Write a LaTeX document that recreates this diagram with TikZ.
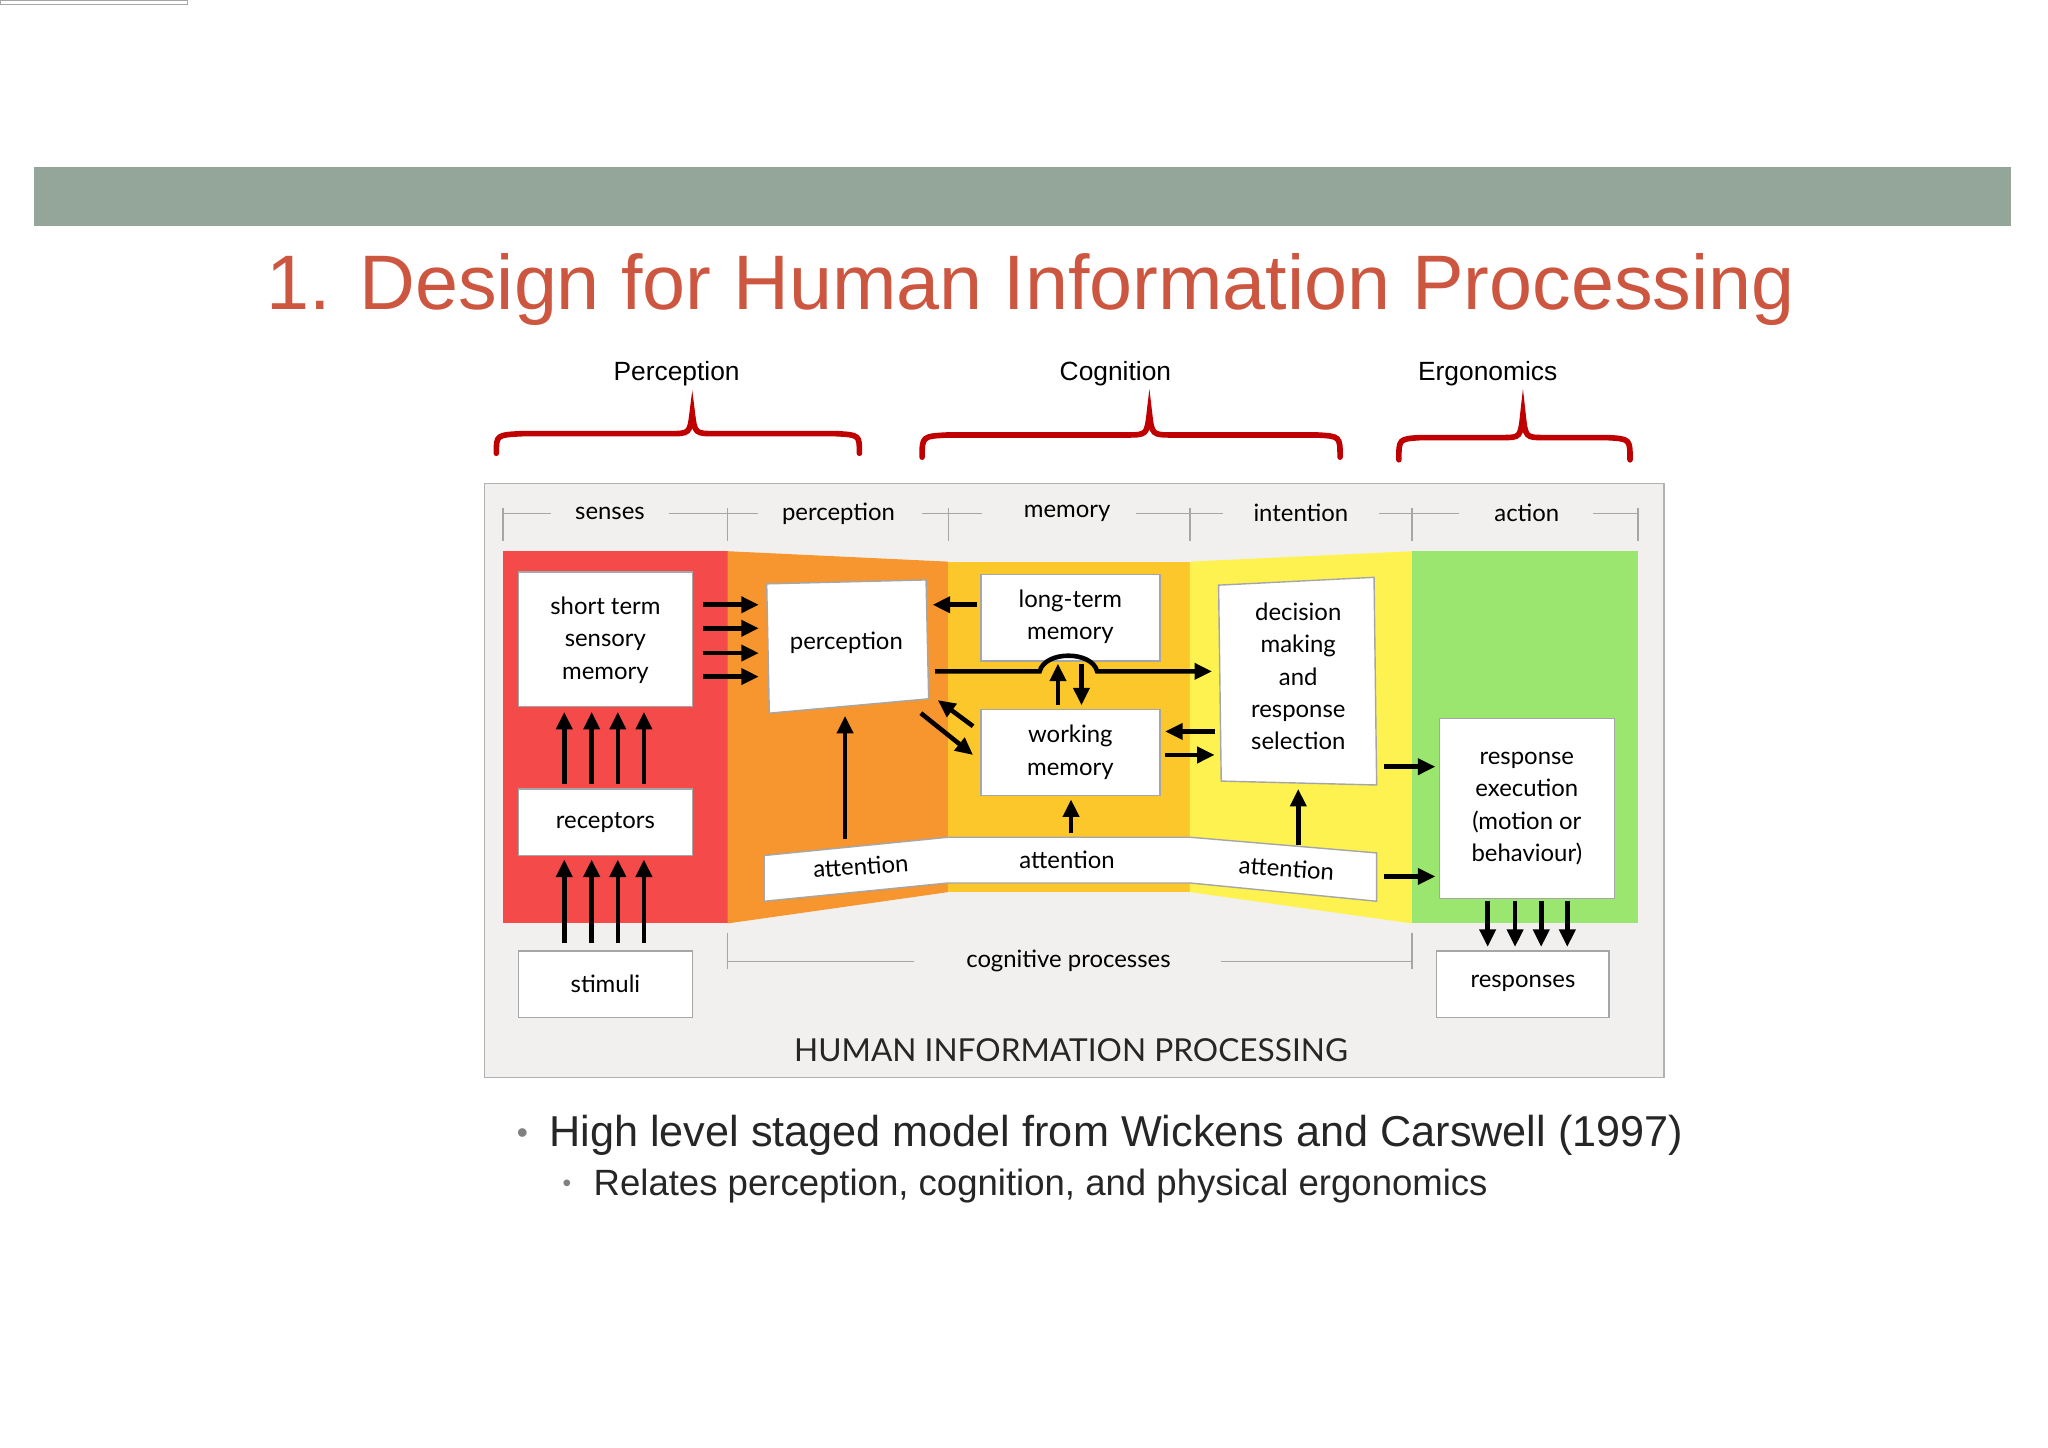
\documentclass[tikz,border=0pt]{standalone}
\usepackage{fontspec}
\setmainfont{Liberation Sans}
\newfontfamily\diagfont{Lato}
\usetikzlibrary{arrows.meta}
\definecolor{barc}{HTML}{94A599}
\definecolor{titc}{HTML}{CC563F}
\definecolor{bracec}{HTML}{C00000}
\definecolor{framec}{HTML}{F2F0EE}
\definecolor{redb}{HTML}{F44A4A}
\definecolor{orab}{HTML}{F7952F}
\definecolor{memb}{HTML}{FCC72A}
\definecolor{yelb}{HTML}{FEF250}
\definecolor{greb}{HTML}{9BE66E}
\begin{document}
\begin{tikzpicture}[x=0.01306cm,y=-0.01306cm,
  wbox/.style={draw=gray!70,fill=white,line width=0.4pt,inner sep=0pt,align=center,font=\diagfont\fontsize{6.8}{9.2}\selectfont},
  dtext/.style={font=\diagfont\fontsize{6.8}{9.2}\selectfont,align=center},
  arr/.style={-{Triangle[length=5pt,width=4.5pt]},line width=1.3pt},
  brace/.style={draw=bracec,line width=1.6pt,line cap=round},
  guide/.style={draw=gray!70,line width=0.4pt}]
\useasboundingbox (0,0) rectangle (1568,1108);
\fill[barc] (26,128) rectangle (1540,173);
\node[text=titc,font=\fontsize{22}{26}\selectfont] (title) at (789,222) {1. Design for Human Information Processing};
\node[font=\fontsize{7.5}{9}\selectfont] (lp) at (518,286) {Perception};
\node[font=\fontsize{7.5}{9}\selectfont] (lc) at (854,286) {Cognition};
\node[font=\fontsize{7.5}{9}\selectfont] (le) at (1139,286) {Ergonomics};
% braces
\draw[brace] (380,347) .. controls (380,333) .. (400,332) -- (512,332) .. controls (528,332) .. (530,316) .. controls (532,332) .. (548,332) -- (640,332) .. controls (658,333) .. (658,347);
\draw[brace] (706,350) .. controls (706,334) .. (726,333) -- (862,333) .. controls (878,333) .. (880,316) .. controls (882,333) .. (898,333) -- (1008,333) .. controls (1026,334) .. (1026,350);
\draw[brace] (1071,352) .. controls (1071,336) .. (1088,335) -- (1150,335) .. controls (1164,335) .. (1166,317) .. controls (1168,335) .. (1182,335) -- (1230,335) .. controls (1248,336) .. (1248,352);
% frame
\draw[gray!60,fill=framec] (371,370) rectangle (1274,825);
% bands
\fill[redb] (385,422) rectangle (557,707);
\fill[orab] (557,422) -- (726,430) -- (726,683) -- (557,707) -- cycle;
\fill[memb] (726,430) rectangle (911,683);
\fill[yelb] (911,430) -- (1081,422) -- (1081,707) -- (911,683) -- cycle;
\fill[greb] (1081,422) rectangle (1254,707);
% header
\foreach \x in {385,557,726,911,1081,1254}{\draw[guide] (\x,389) -- (\x,414);}
\draw[guide] (385,393) -- (422,393); \draw[guide] (512,393) -- (557,393) -- (580,393);
\draw[guide] (706,393) -- (752,393); \draw[guide] (870,393) -- (936,393);
\draw[guide] (1056,393) -- (1117,393); \draw[guide] (1220,393) -- (1254,393);
\node[dtext] (hs) at (467,393) {senses};
\node[dtext] (hp) at (642,393) {perception};
\node[dtext] (hm) at (817,393) {memory};
\node[dtext] (hi) at (996,393) {intention};
\node[dtext] (ha) at (1169,393) {action};
% boxes
\node[wbox,minimum width=133\pgflinewidth,anchor=north west] at (0,0) {}; 
\draw[draw=gray!70,fill=white] (397,438) rectangle (530,541);
\node[dtext] (stsm) at (463.5,490) {short term\\sensory\\memory};
\draw[draw=gray!70,fill=white] (397,604) rectangle (530,655);
\node[dtext] (rec) at (463.5,630) {receptors};
\draw[draw=gray!70,fill=white] (397,728) rectangle (530,779);
\node[dtext] (sti) at (463.5,753) {stimuli};
\draw[draw=gray!70,fill=white] (587,447) -- (709,444) -- (711,535) -- (589,546) -- cycle;
\node[dtext] (perc) at (648,492) {perception};
\draw[draw=gray!70,fill=white] (751,440) rectangle (888,506);
\node[dtext] (ltm) at (819.5,472) {long-term\\memory};
\draw[draw=gray!70,fill=white] (751,543) rectangle (888,609);
\node[dtext] (wm) at (819.5,576) {working\\memory};
\draw[draw=gray!70,fill=white] (933,448) -- (1052,442) -- (1054,601) -- (935,598) -- cycle;
\node[dtext] (dec) at (994,518) {decision\\making\\and\\response\\selection};
\draw[draw=gray!70,fill=white] (585,655) -- (726,641) -- (911,641) -- (1054,653) -- (1054,690) -- (911,676) -- (726,676) -- (585,690) -- cycle;
\node[dtext,rotate=4] (att1) at (659,663) {attention};
\node[dtext] (att2) at (817,658) {attention};
\node[dtext,rotate=-4] (att3) at (985,665) {attention};
\draw[draw=gray!70,fill=white] (1102,550) rectangle (1236,688);
\node[dtext] (resp) at (1169,619) {response\\execution\\(motion or\\behaviour)};
\draw[draw=gray!70,fill=white] (1100,728) rectangle (1232,779);
\node[dtext] (resps) at (1166,753) {responses};
% arrows
\foreach \y in {463,481,500,518}{\draw[arr] (538,\y) -- (581,\y);}
\foreach \x in {432,453,473,493}{\draw[arr] (\x,600) -- (\x,545); \draw[arr] (\x,722) -- (\x,658);}
\draw[arr] (647,642) -- (647,548);
\draw[arr] (748,463) -- (714,463);
\draw[arr] (716,514) -- (796,514) .. controls (800,498) and (836,498) .. (840,514) -- (928,514);
\draw[arr] (810,540) -- (810,508);
\draw[arr] (828,508) -- (828,540);
\draw[arr] (745,556) -- (718,536);
\draw[arr] (705,546) -- (745,578);
\draw[arr] (930,560) -- (892,560);
\draw[arr] (892,578) -- (930,578);
\draw[arr] (820,638) -- (820,612);
\draw[arr] (994,647) -- (994,604);
\draw[arr] (1060,587) -- (1099,587);
\draw[arr] (1060,671) -- (1099,671);
\foreach \x in {1139,1160,1180,1200}{\draw[arr] (\x,690) -- (\x,725);}
% cognitive processes
\draw[guide] (557,736) -- (700,736); \draw[guide] (935,736) -- (1081,736);
\draw[guide] (557,714) -- (557,742); \draw[guide] (1081,714) -- (1081,742);
\node[dtext] (cogp) at (818,736) {cognitive processes};
\node[font=\diagfont\fontsize{9}{11}\selectfont,text=black!85] (hip) at (820,804) {HUMAN INFORMATION PROCESSING};
% bullets
\node[text=gray,font=\fontsize{9}{11}\selectfont] (b1) at (400,870) {•};
\node[anchor=west,font=\fontsize{12.3}{14}\selectfont,text=black!85,inner sep=0pt] (t1) at (420,869) {High level staged model from Wickens and Carswell (1997)};
\node[text=gray,font=\fontsize{7}{9}\selectfont] (b2) at (434,908) {•};
\node[anchor=west,font=\fontsize{10.4}{12}\selectfont,text=black!85,inner sep=0pt] (t2) at (454,908) {Relates perception, cognition, and physical ergonomics};
\end{tikzpicture}
\end{document}
